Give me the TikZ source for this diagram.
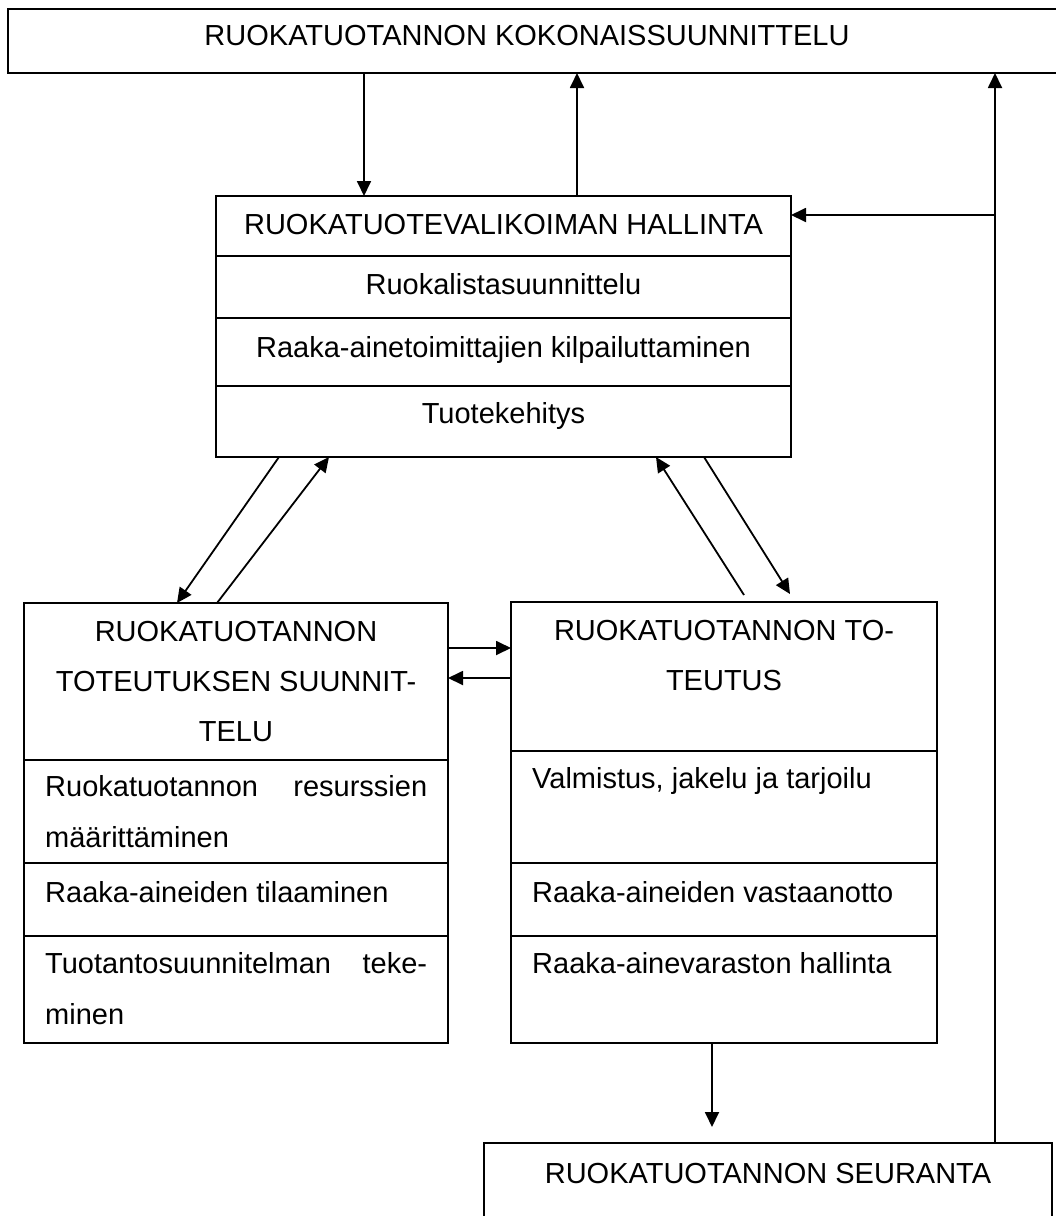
\documentclass[tikz,border=0pt]{standalone}
\usepackage{fontspec}
\setmainfont{Liberation Sans}
\usetikzlibrary{arrows.meta,calc}
\begin{document}
\begin{tikzpicture}[x=1pt,y=-1pt,
  box/.style={draw, line width=1.8pt, rectangle, inner sep=0pt, outer sep=0pt, anchor=north west},
  ln/.style={line width=1.8pt},
  arr/.style={line width=1.8pt, -{Triangle[length=15pt,width=14pt]}},
  txt/.style={inner sep=0pt, anchor=base, font=\fontsize{29}{50}\selectfont},
  ltxt/.style={txt, anchor=base west}]
\useasboundingbox (0,0) rectangle (1056,1216);

% boxes
\node[box, minimum width=1050pt, minimum height=64pt] (top) at (8,9) {};
\node[box, minimum width=575pt, minimum height=261pt] (b2) at (216,196) {};
\node[box, minimum width=424pt, minimum height=440pt] (b3) at (24,603) {};
\node[box, minimum width=426pt, minimum height=441pt] (b4) at (511,602) {};
\node[box, minimum width=568pt, minimum height=100pt] (b5) at (484,1143) {};

% separators
\draw[ln] ($(b2.north west)+(0,60)$) -- ($(b2.north east)+(0,60)$);
\draw[ln] ($(b2.north west)+(0,122)$) -- ($(b2.north east)+(0,122)$);
\draw[ln] ($(b2.north west)+(0,190)$) -- ($(b2.north east)+(0,190)$);
\draw[ln] ($(b3.north west)+(0,157)$) -- ($(b3.north east)+(0,157)$);
\draw[ln] ($(b3.north west)+(0,260)$) -- ($(b3.north east)+(0,260)$);
\draw[ln] ($(b3.north west)+(0,333)$) -- ($(b3.north east)+(0,333)$);
\draw[ln] ($(b4.north west)+(0,149)$) -- ($(b4.north east)+(0,149)$);
\draw[ln] ($(b4.north west)+(0,261)$) -- ($(b4.north east)+(0,261)$);
\draw[ln] ($(b4.north west)+(0,334)$) -- ($(b4.north east)+(0,334)$);

% texts
\node[txt] (t1) at (527,45) {RUOKATUOTANNON KOKONAISSUUNNITTELU};
\node[txt] (t2) at (503.5,234) {RUOKATUOTEVALIKOIMAN HALLINTA};
\node[txt] (t2a) at (503.5,294) {Ruokalistasuunnittelu};
\node[txt] (t2b) at (503.5,357) {Raaka-ainetoimittajien kilpailuttaminen};
\node[txt] (t2c) at (503.5,423) {Tuotekehitys};

\node[txt] (t3l1) at (236,641) {RUOKATUOTANNON};
\node[txt] (t3l2) at (236,691) {TOTEUTUKSEN SUUNNIT-};
\node[txt] (t3l3) at (236,741) {TELU};
\node[ltxt] (t3a1) at (45,796) {\hbox to 382pt{Ruokatuotannon\hfill resurssien}};
\node[ltxt] (t3a2) at (45,847) {määrittäminen};
\node[ltxt] (t3b) at (45,902) {Raaka-aineiden tilaaminen};
\node[ltxt] (t3c1) at (45,973) {\hbox to 382pt{Tuotantosuunnitelman\hfill teke-}};
\node[ltxt] (t3c2) at (45,1024) {minen};

\node[txt] (t4l1) at (724,640) {RUOKATUOTANNON TO-};
\node[txt] (t4l2) at (724,690) {TEUTUS};
\node[ltxt] (t4a) at (532,788) {Valmistus, jakelu ja tarjoilu};
\node[ltxt] (t4b) at (532,902) {Raaka-aineiden vastaanotto};
\node[ltxt] (t4c) at (532,973) {Raaka-ainevaraston hallinta};

\node[txt] (t5) at (768,1183) {RUOKATUOTANNON SEURANTA};

% helper coordinates
\coordinate (dx1) at (364,0);
\coordinate (dx2) at (577,0);
\coordinate (rx) at (995,0);
\coordinate (ry) at (0,215);
\coordinate (h1) at (0,648);
\coordinate (h2) at (0,678);
\coordinate (dx3) at (712,0);

% connectors
\draw[arr] (top.south -| dx1) -- (b2.north -| dx1);
\draw[arr] (b2.north -| dx2) -- (top.south -| dx2);
\draw[arr] (b5.north -| rx) -- (top.south -| rx);
\draw[arr] (rx |- ry) -- (b2.east |- ry);

\draw[arr] ($(b2.south west)+(63,0)$) -- ($(b3.north west)+(153,0)$);
\draw[arr] ($(b3.north west)+(193,0)$) -- ($(b2.south west)+(113,0)$);
\draw[arr] ($(b4.north west)+(233,-7)$) -- ($(b2.south west)+(440,0)$);
\draw[arr] ($(b2.south west)+(488,0)$) -- ($(b4.north west)+(279,-8)$);

\draw[arr] (b3.east |- h1) -- (b4.west |- h1);
\draw[arr] (b4.west |- h2) -- (b3.east |- h2);

\draw[arr] (b4.south -| dx3) -- ($(b5.north -| dx3)+(0,-16)$);
\end{tikzpicture}
\end{document}
